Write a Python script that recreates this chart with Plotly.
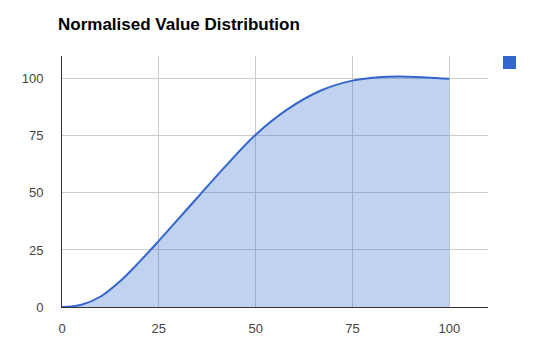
import plotly.graph_objects as go

# Data
x_values = [0, 5, 10, 15, 20, 25, 30, 35, 42, 50, 58, 67, 75, 81, 87, 94, 100]
y_values = [0, 1.0, 4.6, 11.3, 19.8, 29, 38.5, 48, 61.3, 75.5, 86.4, 95.0, 99.2, 100.6, 101, 100.6, 100]
x_ticks = [0, 25, 50, 75, 100]
y_ticks = [0, 25, 50, 75, 100]
title_text = "Normalised Value Distribution"
series_color = "#3366cc"

fig = go.Figure()
fig.add_trace(go.Scatter(
    x=x_values, y=y_values,
    mode="lines",
    line=dict(color=series_color, width=2, shape="spline", smoothing=1),
    fill="tozeroy",
    fillcolor="rgba(51,102,204,0.3)",
    showlegend=False,
    hoverinfo="skip",
))

W, H = 551, 361
L, R, T, B = 62, 63, 56, 54

fig.update_layout(
    width=W, height=H,
    margin=dict(l=L, r=R, t=T, b=B, pad=0),
    paper_bgcolor="white", plot_bgcolor="white",
    font=dict(family="Liberation Sans, Arial, sans-serif", size=13, color="#444444"),
    title=dict(
        text="<b>" + title_text + "</b>",
        font=dict(family="Liberation Sans, Arial, sans-serif", size=17, color="#000000"),
        xref="container", yref="container",
        x=58 / W, xanchor="left",
        y=1 - 24 / H, yanchor="middle",
    ),
    xaxis=dict(
        range=[0, 110], tickvals=x_ticks, ticktext=[str(v) for v in x_ticks],
        showgrid=True, gridcolor="#cccccc", gridwidth=1,
        zeroline=False, showline=True, linecolor="#333333", linewidth=1,
        ticks="", ticklabelstandoff=9,
        fixedrange=True,
    ),
    yaxis=dict(
        range=[0, 110], tickvals=y_ticks, ticktext=[str(v) for v in y_ticks],
        showgrid=True, gridcolor="#cccccc", gridwidth=1,
        zeroline=False, showline=True, linecolor="#333333", linewidth=1,
        ticks="", ticklabelstandoff=15,
        fixedrange=True,
    ),
    shapes=[dict(
        type="rect", xref="paper", yref="paper",
        x0=(503 - L) / (W - L - R), x1=(516 - L) / (W - L - R),
        y0=(H - B - 69) / (H - T - B), y1=(H - B - 56) / (H - T - B),
        fillcolor=series_color, line=dict(width=0),
    )],
)

fig.write_html(
    "out.html",
    config={"displayModeBar": False, "staticPlot": True},
    post_script="document.body.style.margin='0';document.body.style.overflow='hidden';",
)
